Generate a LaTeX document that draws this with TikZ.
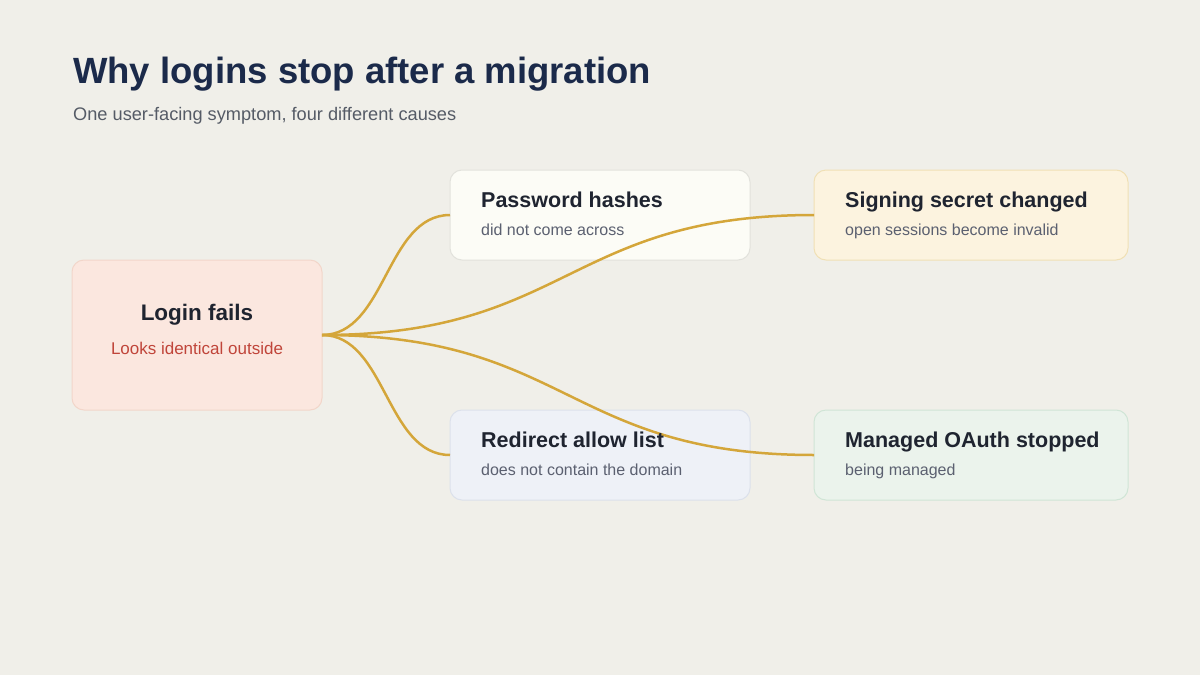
\documentclass[tikz,border=0pt]{standalone}
\usepackage{fontspec}
\setmainfont{Liberation Sans}
\definecolor{bg}{HTML}{F0EFE9}
\definecolor{titlec}{HTML}{1B2A4A}
\definecolor{subc}{HTML}{555B66}
\definecolor{headc}{HTML}{1F2430}
\definecolor{smallc}{HTML}{5B6070}
\definecolor{redc}{HTML}{C0453A}
\definecolor{linkc}{HTML}{D4A63A}
\definecolor{fillA}{HTML}{FBE7DF}\definecolor{drawA}{HTML}{F2D6CA}
\definecolor{fillB}{HTML}{FCFCF6}\definecolor{drawB}{HTML}{E2E2DC}
\definecolor{fillC}{HTML}{FCF3DF}\definecolor{drawC}{HTML}{F0E0B5}
\definecolor{fillD}{HTML}{EEF1F7}\definecolor{drawD}{HTML}{DCE1EB}
\definecolor{fillE}{HTML}{EBF3EC}\definecolor{drawE}{HTML}{D0E5D6}
\tikzset{
  card/.style={rounded corners=12pt, line width=1pt, inner sep=0pt, outer sep=0pt, minimum height=90pt, minimum width=300pt},
  head/.style={anchor=base west, inner sep=0pt, text=headc, font=\fontsize{21.5}{25}\selectfont\bfseries},
  small/.style={anchor=base west, inner sep=0pt, text=smallc, font=\fontsize{16}{19}\selectfont},
  link/.style={draw=linkc, line width=2.5pt}
}
\begin{document}
\begin{tikzpicture}[x=1pt,y=-1pt]
\fill[bg] (0,0) rectangle (1200,675);
\useasboundingbox (0,0) rectangle (1200,675);
\node[anchor=base west, inner sep=0pt, text=titlec, font=\fontsize{36.5}{42}\selectfont\bfseries] (title) at (73,83) {Why logins stop after a migration};
\node[anchor=base west, inner sep=0pt, text=subc, font=\fontsize{18.2}{22}\selectfont] (subtitle) at (73,120) {One user-facing symptom, four different causes};
% cards
\node[card, fill=fillA, draw=drawA, minimum width=250pt, minimum height=150pt] (login) at (197,335) {};
\node[card, fill=fillB, draw=drawB] (pw) at (600,215) {};
\node[card, fill=fillC, draw=drawC, minimum width=314pt] (sign) at (971,215) {};
\node[card, fill=fillD, draw=drawD] (redir) at (600,455) {};
\node[card, fill=fillE, draw=drawE, minimum width=314pt] (oauth) at (971,455) {};
% connectors
\draw[link] (login.east) .. controls +(64,0) and +(-64,0) .. (pw.west);
\draw[link] (login.east) .. controls +(246,0) and +(-246,0) .. (sign.west);
\draw[link] (login.east) .. controls +(64,0) and +(-64,0) .. (redir.west);
\draw[link] (login.east) .. controls +(246,0) and +(-246,0) .. (oauth.west);
% texts
\node[anchor=base, inner sep=0pt, text=headc, font=\fontsize{22.5}{26}\selectfont\bfseries] (loginh) at (197,320) {Login fails};
\node[anchor=base, inner sep=0pt, text=redc, font=\fontsize{17}{20}\selectfont] (logins) at (197,354) {Looks identical outside};
\node[head] (pwh) at (481,207) {Password hashes};
\node[small] (pws) at (481,235) {did not come across};
\node[head] (signh) at (845,207) {Signing secret changed};
\node[small] (signs) at (845,235) {open sessions become invalid};
\node[head] (redirh) at (481,447) {Redirect allow list};
\node[small] (redirs) at (481,475) {does not contain the domain};
\node[head] (oauthh) at (845,447) {Managed OAuth stopped};
\node[small] (oauths) at (845,475) {being managed};
\end{tikzpicture}
\end{document}
